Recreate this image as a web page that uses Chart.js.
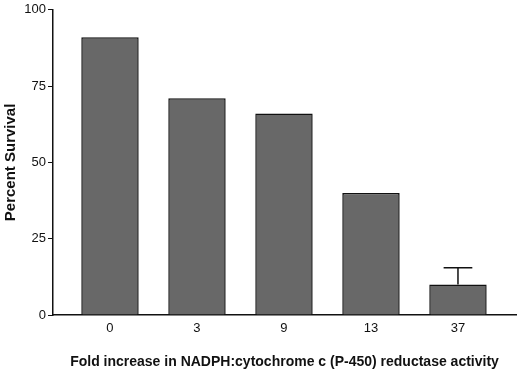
<!DOCTYPE html>
<html>
<head>
<meta charset="utf-8">
<script src="https://cdn.jsdelivr.net/npm/chart.js@4"></script>
<style>
  html, body { margin: 0; padding: 0; background: #fff; }
  #wrap { width: 520px; height: 371px; }
</style>
</head>
<body>
<div id="wrap"><canvas id="chart"></canvas></div>
<script>
// Fold increase categories and percent survival
const categories = ['0', '3', '9', '13', '37']
const survival = [91, 71, 66, 40, 10]
const errors = [0, 0, 0, 0, 5.5]
const yTicks = [0, 25, 50, 75, 100]

const FONT = "'Liberation Sans', Arial, sans-serif"

// Draws upward error bars on top of the bars
const errorBars = {
  id: 'errorBars',
  afterDatasetsDraw(chart) {
    const meta = chart.getDatasetMeta(0)
    const yScale = chart.scales.y
    const ctx = chart.ctx
    ctx.save()
    ctx.strokeStyle = '#111'
    ctx.lineWidth = 1.5
    meta.data.forEach((bar, i) => {
      if (!errors[i]) return
      const top = yScale.getPixelForValue(survival[i] + errors[i])
      const half = bar.width / 4
      ctx.beginPath()
      ctx.moveTo(bar.x, bar.y)
      ctx.lineTo(bar.x, top)
      ctx.moveTo(bar.x - half, top)
      ctx.lineTo(bar.x + half, top)
      ctx.stroke()
    })
    ctx.restore()
  }
}

new Chart(document.getElementById('chart'), {
  type: 'bar',
  data: {
    datasets: [
      {
        data: survival.map((v, i) => ({ x: i, y: v })),
        backgroundColor: '#686868',
        borderColor: '#111',
        borderWidth: 1.5,
        barPercentage: 0.66,
        categoryPercentage: 1
      }
    ]
  },
  options: {
    responsive: true,
    maintainAspectRatio: false,
    animation: false,
    layout: { padding: { top: 7, right: 4, left: 0, bottom: 0 } },
    plugins: {
      legend: { display: false },
      tooltip: { enabled: false }
    },
    scales: {
      x: {
        type: 'linear',
        offset: false,
        min: -0.655,
        max: 4.667,
        afterBuildTicks: (scale) => {
          scale.ticks = categories.map((c, i) => ({ value: i }))
        },
        afterFit: (scale) => { scale.height = 56 },
        grid: { display: false, drawTicks: false },
        border: { display: true, color: '#111', width: 1.5 },
        ticks: {
          padding: 6,
          color: '#111',
          font: { family: FONT, size: 13 },
          callback: (value) => categories[value]
        },
        title: {
          display: true,
          text: 'Fold increase in NADPH:cytochrome c (P-450) reductase activity',
          color: '#111',
          font: { family: FONT, size: 14, weight: 'bold' },
          padding: { top: 0, bottom: 0 }
        }
      },
      y: {
        min: 0,
        max: 100,
        afterBuildTicks: (scale) => {
          scale.ticks = yTicks.map((v) => ({ value: v }))
        },
        afterFit: (scale) => { scale.width = 53 },
        grid: { drawOnChartArea: false, drawTicks: true, tickLength: 5, color: '#111', lineWidth: 1 },
        border: { display: true, color: '#111', width: 1.5 },
        ticks: {
          padding: 2,
          color: '#111',
          font: { family: FONT, size: 13 }
        },
        title: {
          display: true,
          text: 'Percent Survival',
          color: '#111',
          font: { family: FONT, size: 15, weight: 'bold' },
          padding: { top: 2, bottom: 0 }
        }
      }
    }
  },
  plugins: [errorBars]
})
</script>
</body>
</html>
